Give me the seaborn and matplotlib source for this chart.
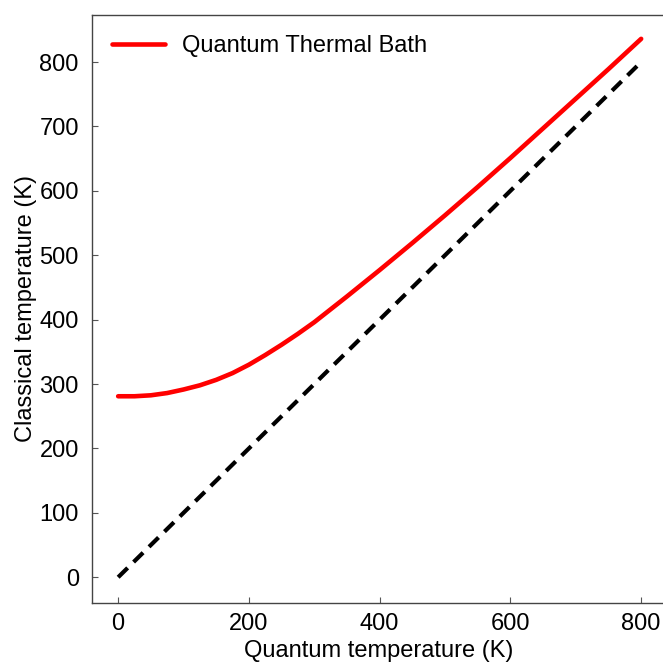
import matplotlib
matplotlib.use("Agg")
import matplotlib.pyplot as plt
import pandas as pd
import seaborn as sns

# quantum temperature (K) and the classical temperature the QTB produces
t_quantum = [0, 25, 50, 75, 100, 125, 150, 175, 200, 225, 250, 275, 300,
             350, 400, 450, 500, 550, 600, 650, 700, 750, 800]
t_classical = [281, 281, 282.5, 286, 291.5, 298, 306.5, 317, 330, 345, 361, 378,
               396, 436, 477, 519, 562, 606, 651, 697, 743, 789, 836]
# reference line T_cl = T_q
ref_x = [0, 800]
ref_y = [0, 800]

sns.set_style("ticks")
plt.rcParams["font.family"] = ["Liberation Sans", "DejaVu Sans"]
plt.rcParams["text.color"] = "black"
plt.rcParams["axes.labelcolor"] = "black"

df = pd.DataFrame({"tq": t_quantum, "tc": t_classical})
ref = pd.DataFrame({"tq": ref_x, "tc": ref_y})

fig = plt.figure(figsize=(6.63, 6.62), dpi=100)
ax = fig.add_axes([92 / 663, 59 / 662, 574 / 663, 588 / 662])

sns.lineplot(data=df, x="tq", y="tc", color="red", linewidth=3.3,
             label="Quantum Thermal Bath", ax=ax)
sns.lineplot(data=ref, x="tq", y="tc", color="black", linewidth=3.0,
             ax=ax)
ax.lines[1].set_dashes((3.2, 2.0))

ax.set_xlim(-40, 838)
ax.set_ylim(-40, 873)
ax.set_xticks([0, 200, 400, 600, 800])
ax.set_yticks(range(0, 900, 100))
ax.tick_params(direction="in", length=4, width=0.8, colors="#555555",
               labelcolor="black", labelsize=17)
ax.tick_params(axis="y", pad=9.5)
ax.tick_params(axis="x", pad=7)
for s in ax.spines.values():
    s.set_color("#444444")
    s.set_linewidth(1.0)

ax.set_xlabel("Quantum temperature (K)", fontsize=17, labelpad=4)
ax.set_ylabel("Classical temperature (K)", fontsize=17, labelpad=2)

ax.legend(loc="upper left", frameon=False, fontsize=17, handlelength=2.25,
          handletextpad=0.72, borderaxespad=0.45)

fig.savefig("out.png", dpi=100)
